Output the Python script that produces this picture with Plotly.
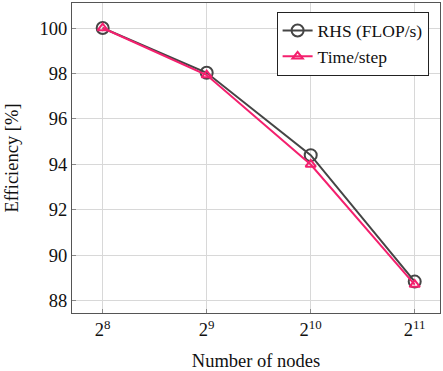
import plotly.graph_objects as go
import math

nodes = [256, 512, 1024, 2048]
tick_labels = ["2<sup>8</sup>", "2<sup>9</sup>", "2<sup>10</sup>", "2<sup>11</sup>"]
rhs_eff = [100.0, 98.03, 94.41, 88.85]
time_eff = [100.0, 97.93, 94.0, 88.72]

FONT = "Liberation Serif, Times New Roman, serif"
dark = "#454545"
pink = "#f4206e"
FS = 18.5

fig = go.Figure()
fig.add_trace(go.Scatter(
    x=nodes, y=rhs_eff, mode="lines+markers", name="RHS (FLOP/s)",
    line=dict(color=dark, width=2),
    marker=dict(symbol="circle-open", size=12, color=dark, line=dict(width=2, color=dark)),
))
fig.add_trace(go.Scatter(
    x=nodes, y=time_eff, mode="lines+markers", name="Time/step",
    line=dict(color=pink, width=2),
    marker=dict(symbol="triangle-up-open", size=9, color=pink, line=dict(width=2, color=pink)),
))

fig.update_layout(
    width=443, height=371,
    margin=dict(l=72, r=3, t=3, b=58),
    paper_bgcolor="white", plot_bgcolor="white",
    font=dict(family=FONT, size=FS, color="#111"),
    showlegend=True,
    legend=dict(
        x=0.556, y=0.972, xanchor="left", yanchor="top",
        bordercolor="#222", borderwidth=1, bgcolor="white",
        font=dict(family=FONT, size=17.5, color="#111"),
        tracegroupgap=0, itemwidth=30,
    ),
    xaxis=dict(
        type="log",
        range=[7.705 * math.log10(2), 11.243 * math.log10(2)],
        tickvals=nodes, ticktext=tick_labels,
        showgrid=True, gridcolor="#d8d8d8", gridwidth=1,
        showline=True, linecolor="#555", linewidth=1.2, mirror=True,
        ticks="inside", ticklen=4, tickcolor="#888",
        title=dict(text="Number of nodes", font=dict(family=FONT, size=FS)),
        zeroline=False, automargin=False,
    ),
    yaxis=dict(
        range=[87.47, 101.1],
        tickvals=[88, 90, 92, 94, 96, 98, 100],
        showgrid=True, gridcolor="#d8d8d8", gridwidth=1,
        showline=True, linecolor="#555", linewidth=1.2, mirror=True,
        ticks="inside", ticklen=4, tickcolor="#888",
        title=dict(text="Efficiency [%]", font=dict(family=FONT, size=FS)),
        zeroline=False, automargin=False,
    ),
)

fig.write_html("out.html", config={"displayModeBar": False},
               post_script="document.body.style.margin='0';")
